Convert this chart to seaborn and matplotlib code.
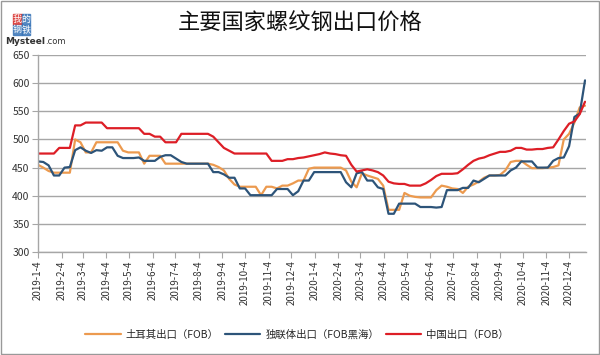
import pandas as pd
import numpy as np
import seaborn as sns
import matplotlib.pyplot as plt
from matplotlib.patches import Rectangle

# weekly prices, 2019-1-4 onwards
turkey = [455, 450, 444, 441, 441, 441, 441, 500, 495, 477,
          477, 495, 495, 495, 495, 495, 480, 477, 477, 477,
          457, 471, 471, 471, 457, 457, 457, 457, 457, 457,
          457, 457, 457, 455, 451, 445, 430, 420, 416, 416,
          416, 416, 401, 416, 416, 413, 418, 418, 422, 427,
          427, 448, 450, 450, 450, 450, 450, 450, 445, 425,
          415, 440, 436, 433, 430, 418, 375, 375, 375, 405,
          400, 398, 397, 397, 397, 410, 418, 416, 413, 412,
          405, 416, 420, 425, 432, 436, 436, 437, 445, 460,
          462, 462, 455, 449, 449, 449, 450, 451, 454, 500,
          510, 530, 557, 560]
cis = [461, 460, 454, 436, 436, 450, 451, 481, 486, 480,
       476, 481, 480, 486, 486, 471, 467, 467, 467, 468,
       462, 462, 462, 469, 472, 472, 466, 460, 457, 457,
       457, 457, 457, 442, 442, 438, 432, 432, 413, 413,
       401, 401, 401, 401, 401, 412, 412, 412, 401, 408,
       427, 427, 442, 442, 442, 442, 442, 442, 424, 415,
       440, 442, 427, 427, 415, 412, 368, 368, 386, 386,
       386, 386, 380, 380, 380, 379, 380, 410, 410, 410,
       414, 414, 427, 424, 430, 436, 436, 436, 436, 445,
       450, 461, 461, 461, 450, 450, 450, 462, 467, 468,
       488, 540, 546, 605]
china = [475, 475, 475, 475, 485, 485, 485, 525, 525, 530,
         530, 530, 530, 520, 520, 520, 520, 520, 520, 520,
         510, 510, 505, 505, 495, 495, 495, 510, 510, 510,
         510, 510, 510, 505, 495, 485, 480, 475, 475, 475,
         475, 475, 475, 475, 462, 462, 462, 465, 465, 467,
         468, 470, 472, 474, 477, 475, 474, 472, 471, 455,
         443, 445, 447, 445, 442, 436, 425, 422, 421, 421,
         418, 418, 418, 422, 428, 435, 439, 439, 439, 440,
         447, 455, 462, 466, 468, 472, 475, 478, 478, 480,
         485, 485, 482, 482, 483, 483, 485, 486, 500, 515,
         528, 532, 545, 567]

series_names = ['土耳其出口（FOB）', '独联体出口（FOB黑海）', '中国出口（FOB）']
colors = ['#EC9A4F', '#2D5479', '#DD1E26']
yticks = [300, 350, 400, 450, 500, 550, 600, 650]
month_ticks = pd.date_range('2019-01-01', '2020-12-01', freq='MS') + pd.Timedelta(days=3)
month_labels = [f'{d.year}-{d.month}-4' for d in month_ticks]

dates = pd.date_range('2019-01-04', periods=len(china), freq='7D')
df = pd.DataFrame({'date': dates, series_names[0]: turkey,
                   series_names[1]: cis, series_names[2]: china})
long = df.melt(id_vars='date', var_name='series', value_name='price')

sns.set_style('white')
plt.rcParams['font.family'] = ['Noto Sans CJK SC', 'DejaVu Sans']

fig = plt.figure(figsize=(6, 3.55), dpi=100)
ax = fig.add_axes([0.0633, 0.290, 0.913, 0.555])

sns.lineplot(data=long, x='date', y='price', hue='series',
             palette=dict(zip(series_names, colors)), linewidth=1.6, ax=ax)

ax.set_ylim(300, 650)
ax.set_yticks(yticks)
ax.set_yticklabels([str(v) for v in yticks], fontsize=7.5, color='#333333')
ax.set_xlim(pd.Timestamp('2019-01-04'), pd.Timestamp('2020-12-26'))
ax.set_xticks(month_ticks)
ax.set_xticklabels(month_labels, rotation=90, fontsize=7, color='#333333')
ax.set_xlabel('')
ax.set_ylabel('')
ax.grid(axis='y', color='#a6a6a6', linewidth=1)
ax.tick_params(axis='both', length=4, width=0.8, color='#a6a6a6', pad=2, direction='out')
ax.tick_params(axis='x', bottom=True)
ax.tick_params(axis='y', left=True)
for side in ['top', 'right']:
    ax.spines[side].set_visible(False)
for side in ['left', 'bottom']:
    ax.spines[side].set_color('#a6a6a6')
    ax.spines[side].set_linewidth(1)

handles, labels = ax.get_legend_handles_labels()
ax.get_legend().remove()
fig.legend(handles, labels, loc='center', bbox_to_anchor=(0.495, 0.057), ncol=3,
           frameon=False, fontsize=7.5, handlelength=3.4, columnspacing=0.6,
           handletextpad=0.5)

fig.text(0.5, 0.935, '主要国家螺纹钢出口价格', ha='center', va='center',
         fontsize=16, fontweight='normal', color='#111111')

# logo
logo = [('我', '#D9302C', 0.029, 0.945), ('的', '#3A76B8', 0.043, 0.945),
        ('钢', '#3A76B8', 0.029, 0.916), ('铁', '#3A76B8', 0.043, 0.916)]
for ch, c, lx, ly in logo:
    fig.patches.append(Rectangle((lx - 0.007, ly - 0.0145), 0.014, 0.029,
                                 transform=fig.transFigure, color=c, alpha=0.85))
    fig.text(lx, ly, ch, ha='center', va='center', fontsize=6.5, color='white')
fig.text(0.008, 0.882, 'Mysteel', ha='left', va='center', fontsize=6.5,
         fontweight='bold', color='#333333', family='DejaVu Sans')
fig.text(0.075, 0.882, '.com', ha='left', va='center', fontsize=6,
         color='#333333', family='DejaVu Sans')

# outer border
fig.patches.append(Rectangle((0.002, 0.003), 0.996, 0.994, transform=fig.transFigure,
                             fill=False, edgecolor='#999999', linewidth=1))

fig.savefig('out.png', dpi=100)
